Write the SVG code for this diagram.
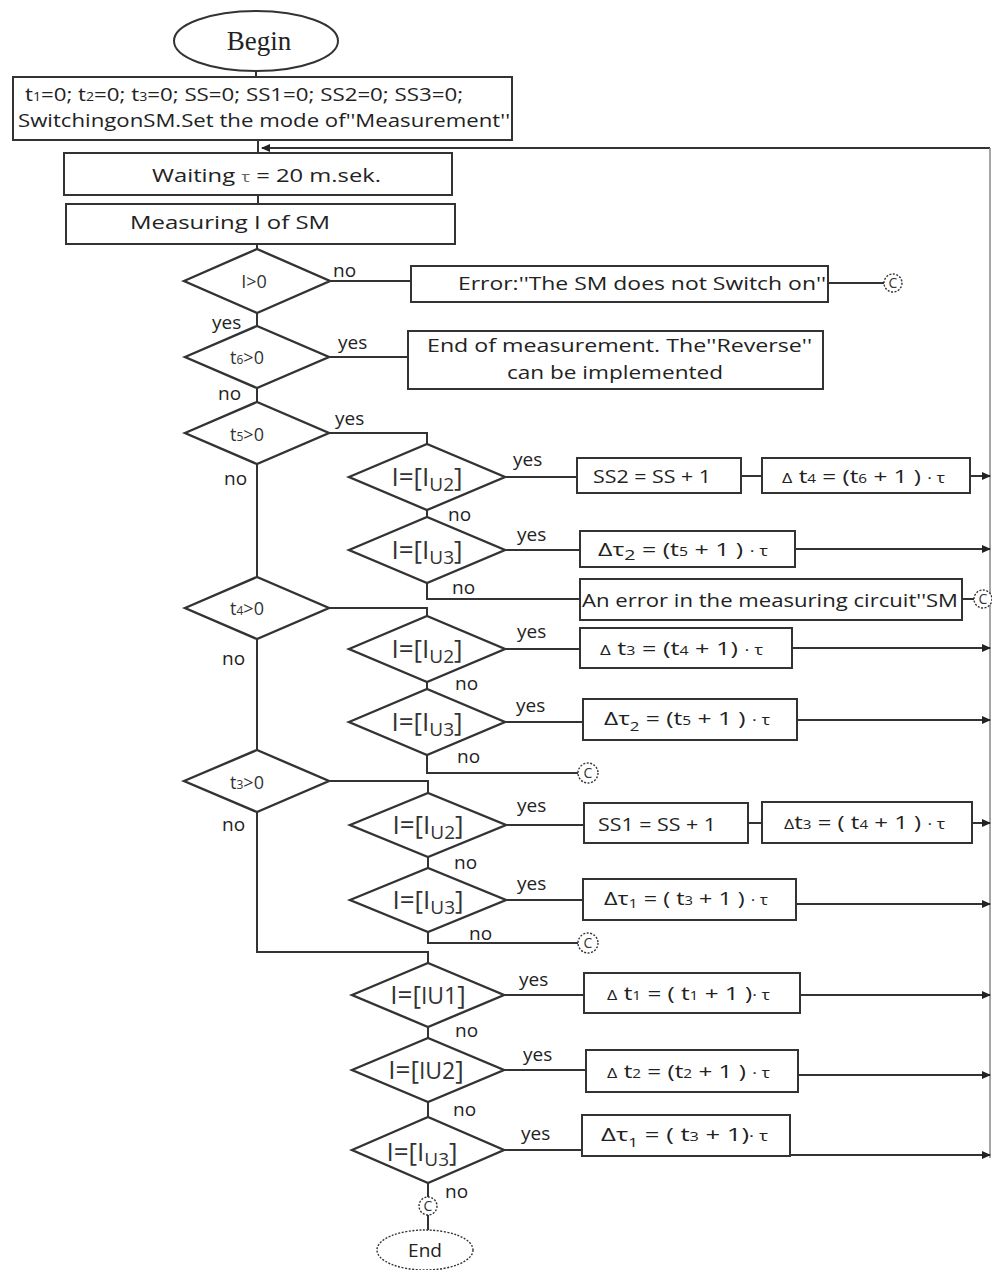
<svg xmlns="http://www.w3.org/2000/svg" width="992" height="1270" viewBox="0 0 992 1270">
<defs>
<marker id="ar" markerUnits="userSpaceOnUse" markerWidth="9" markerHeight="8" refX="8" refY="4" orient="auto"><path d="M0,0 L9,4 L0,8 z" fill="#222"/></marker>
<style>
.ln{stroke:#333;stroke-width:2;fill:none}
.bx{fill:#fff;stroke:#333;stroke-width:2}
.dm{fill:#fff;stroke:#333;stroke-width:2.4}
.cc{fill:#fff;stroke:#333;stroke-width:1.4;stroke-dasharray:2 1.5}
.t{font-family:"Open Sans","Noto Sans",sans-serif;font-size:19px;fill:#222}
.m{text-anchor:middle}
.d{font-family:"Open Sans","Noto Sans",sans-serif;font-size:18px;fill:#333;text-anchor:middle}
.e{font-family:"Open Sans","Noto Sans",sans-serif;font-size:19px;fill:#333;text-anchor:middle}
.big{font-size:26px}
.sub{font-size:12px}
.g{font-size:14px}
.c{font-family:"Open Sans","Noto Sans",sans-serif;font-size:14px;fill:#333;text-anchor:middle}
</style>
</defs>
<rect width="992" height="1270" fill="#fff"/>

<g id="connectors">
<path class="ln" d="M256,71 V77"/>
<path class="ln" d="M258,140 V153"/>
<path class="ln" d="M258,195 V204"/>
<path class="ln" d="M257,244 V249"/>
<path class="ln" d="M990,148 H262" marker-end="url(#ar)"/>
<path class="ln" d="M990,148 V1158" style="stroke:#888;stroke-width:1.5"/>
<path class="ln" d="M257,313 V326"/>
<path class="ln" d="M257,388 V402"/>
<path class="ln" d="M257,464 V577"/>
<path class="ln" d="M257,639 V750"/>
<path class="ln" d="M257,812 V952 H428 V963"/>
<path class="ln" d="M330,281 H411"/>
<path class="ln" d="M828,283 H884"/>
<path class="ln" d="M329,357 H408"/>
<path class="ln" d="M329,433 H427 V444"/>
<path class="ln" d="M505,477 H577"/>
<path class="ln" d="M741,476 H762"/>
<path class="ln" d="M970,476 H990" marker-end="url(#ar)"/>
<path class="ln" d="M427,510 V517"/>
<path class="ln" d="M505,550 H580"/>
<path class="ln" d="M795,549 H990" marker-end="url(#ar)"/>
<path class="ln" d="M427,583 V599 H580"/>
<path class="ln" d="M962,599 H974"/>
<path class="ln" d="M329,608 H427 V616"/>
<path class="ln" d="M505,649 H580"/>
<path class="ln" d="M792,648 H990" marker-end="url(#ar)"/>
<path class="ln" d="M427,682 V689"/>
<path class="ln" d="M505,722 H583"/>
<path class="ln" d="M797,720 H990" marker-end="url(#ar)"/>
<path class="ln" d="M427,755 V773 H578"/>
<path class="ln" d="M329,781 H428 V793"/>
<path class="ln" d="M506,825 H584"/>
<path class="ln" d="M748,823 H762"/>
<path class="ln" d="M972,823 H990" marker-end="url(#ar)"/>
<path class="ln" d="M428,857 V868"/>
<path class="ln" d="M506,900 H583"/>
<path class="ln" d="M796,904 H990" marker-end="url(#ar)"/>
<path class="ln" d="M428,932 V943 H578"/>
<path class="ln" d="M504,995 H584"/>
<path class="ln" d="M800,995 H990" marker-end="url(#ar)"/>
<path class="ln" d="M428,1027 V1038"/>
<path class="ln" d="M504,1070 H586"/>
<path class="ln" d="M798,1075 H990" marker-end="url(#ar)"/>
<path class="ln" d="M428,1102 V1117"/>
<path class="ln" d="M504,1150 H582"/>
<path class="ln" d="M790,1155 H990" marker-end="url(#ar)"/>
<path class="ln" d="M428,1183 V1197"/>
<path class="ln" d="M428,1215 V1230"/>
</g>

<g id="labels">
<text class="t" x="333" y="277">no</text>
<text class="t" x="212" y="329">yes</text>
<text class="t" x="338" y="349">yes</text>
<text class="t" x="218" y="400">no</text>
<text class="t" x="335" y="425">yes</text>
<text class="t" x="224" y="485">no</text>
<text class="t" x="513" y="466">yes</text>
<text class="t" x="448" y="521">no</text>
<text class="t" x="517" y="541">yes</text>
<text class="t" x="452" y="594">no</text>
<text class="t" x="222" y="665">no</text>
<text class="t" x="517" y="638">yes</text>
<text class="t" x="455" y="690">no</text>
<text class="t" x="516" y="712">yes</text>
<text class="t" x="457" y="763">no</text>
<text class="t" x="222" y="831">no</text>
<text class="t" x="517" y="812">yes</text>
<text class="t" x="454" y="869">no</text>
<text class="t" x="517" y="890">yes</text>
<text class="t" x="469" y="940">no</text>
<text class="t" x="519" y="986">yes</text>
<text class="t" x="455" y="1037">no</text>
<text class="t" x="523" y="1061">yes</text>
<text class="t" x="453" y="1116">no</text>
<text class="t" x="521" y="1140">yes</text>
<text class="t" x="445" y="1198">no</text>
</g>

<g id="begin"><ellipse class="bx" cx="256" cy="41" rx="82" ry="30"/><text x="259" y="50" text-anchor="middle" style="font-family:'Liberation Serif',serif;font-size:27px;fill:#222">Begin</text></g>

<g id="init"><rect class="bx" x="13" y="77" width="499" height="63"/>
<text class="t" x="25" y="101" textLength="438" lengthAdjust="spacingAndGlyphs">t<tspan class="sub">1</tspan>=0; t<tspan class="sub">2</tspan>=0; t<tspan class="sub">3</tspan>=0; SS=0; SS1=0; SS2=0; SS3=0;</text>
<text class="t" x="18" y="127" textLength="492" lengthAdjust="spacingAndGlyphs">SwitchingonSM.Set the mode of''Measurement''</text></g>

<g id="waiting"><rect class="bx" x="64" y="153" width="388" height="42"/>
<text class="t" x="152" y="182" textLength="229" lengthAdjust="spacingAndGlyphs">Waiting <tspan style="font-size:15px;fill:#666">τ</tspan>  = 20 m.sek.</text></g>

<g id="measuring"><rect class="bx" x="66" y="204" width="389" height="40"/>
<text class="t" x="130" y="229" textLength="200" lengthAdjust="spacingAndGlyphs">Measuring  I of SM</text></g>

<g id="d-i0"><polygon class="dm" points="184,281 257,249 330,281 257,313"/><text class="d" x="254" y="288">I&gt;0</text></g>
<g id="err1"><rect class="bx" x="411" y="266" width="417" height="36"/><text class="t" x="458" y="290" textLength="368" lengthAdjust="spacingAndGlyphs">Error:''The SM does not Switch on''</text></g>
<g id="c1"><circle class="cc" cx="893" cy="283" r="9"/><text class="c" x="893" y="288">C</text></g>

<g id="d-t6"><polygon class="dm" points="185,357 257,326 329,357 257,388"/><text class="d" x="247" y="364">t<tspan class="sub">6</tspan>&gt;0</text></g>
<g id="endm"><rect class="bx" x="408" y="331" width="415" height="58"/>
<text class="t" x="427" y="352" textLength="385" lengthAdjust="spacingAndGlyphs">End of measurement. The''Reverse''</text>
<text class="t" x="507" y="379" textLength="216" lengthAdjust="spacingAndGlyphs">can be implemented</text></g>

<g id="d-t5"><polygon class="dm" points="185,433 257,402 329,433 257,464"/><text class="d" x="247" y="441">t<tspan class="sub">5</tspan>&gt;0</text></g>

<g id="e1"><polygon class="dm" points="349,477 427,444 505,477 427,510"/><text class="e" x="427" y="486"><tspan class="big">I=[I</tspan><tspan dy="5">U2</tspan><tspan class="big" dy="-5">]</tspan></text></g>
<g id="ss2"><rect class="bx" x="577" y="458" width="164" height="35"/><text class="t" x="593" y="483" textLength="118" lengthAdjust="spacingAndGlyphs">SS2 = SS + 1</text></g>
<g id="dt4"><rect class="bx" x="762" y="458" width="208" height="35"/><text class="t" x="782" y="483" textLength="163" lengthAdjust="spacingAndGlyphs"><tspan class="g">Δ</tspan> t<tspan class="sub">4</tspan> = (t<tspan class="sub">6</tspan> + 1 ) <tspan class="g">· τ</tspan></text></g>

<g id="e2"><polygon class="dm" points="349,550 427,517 505,550 427,583"/><text class="e" x="427" y="559"><tspan class="big">I=[I</tspan><tspan dy="5">U3</tspan><tspan class="big" dy="-5">]</tspan></text></g>
<g id="dtau2a"><rect class="bx" x="580" y="531" width="215" height="36"/><text class="t" x="598" y="556" textLength="170" lengthAdjust="spacingAndGlyphs">Δτ<tspan dy="4" style="font-size:15px">2</tspan><tspan dy="-4"> = (t</tspan><tspan class="sub">5</tspan> + 1 ) <tspan class="g">· τ</tspan></text></g>

<g id="err2"><rect class="bx" x="580" y="579" width="382" height="41"/><text class="t" x="582" y="607" textLength="376" lengthAdjust="spacingAndGlyphs">An error in the measuring circuit''SM</text></g>
<g id="c2"><circle class="cc" cx="983" cy="599" r="9"/><text class="c" x="983" y="604">C</text></g>

<g id="d-t4"><polygon class="dm" points="185,608 257,577 329,608 257,639"/><text class="d" x="247" y="615">t<tspan class="sub">4</tspan>&gt;0</text></g>

<g id="e3"><polygon class="dm" points="349,649 427,616 505,649 427,682"/><text class="e" x="427" y="658"><tspan class="big">I=[I</tspan><tspan dy="5">U2</tspan><tspan class="big" dy="-5">]</tspan></text></g>
<g id="dt3a"><rect class="bx" x="580" y="628" width="212" height="40"/><text class="t" x="600" y="655" textLength="163" lengthAdjust="spacingAndGlyphs"><tspan class="g">Δ</tspan>  t<tspan class="sub">3</tspan> = (t<tspan class="sub">4</tspan> + 1)  <tspan class="g">· τ</tspan></text></g>

<g id="e4"><polygon class="dm" points="349,722 427,689 505,722 427,755"/><text class="e" x="427" y="731"><tspan class="big">I=[I</tspan><tspan dy="5">U3</tspan><tspan class="big" dy="-5">]</tspan></text></g>
<g id="dtau2b"><rect class="bx" x="583" y="699" width="214" height="41"/><text class="t" x="604" y="725" textLength="166" lengthAdjust="spacingAndGlyphs">Δτ<tspan dy="6" style="font-size:13px">2</tspan><tspan dy="-6">  = (t</tspan><tspan class="sub">5</tspan> + 1 ) <tspan class="g">· τ</tspan></text></g>
<g id="c3"><circle class="cc" cx="588" cy="773" r="10"/><text class="c" x="588" y="778">C</text></g>

<g id="d-t3"><polygon class="dm" points="184,781 257,750 329,781 257,812"/><text class="d" x="247" y="789">t<tspan class="sub">3</tspan>&gt;0</text></g>

<g id="e5"><polygon class="dm" points="350,825 428,793 506,825 428,857"/><text class="e" x="428" y="834"><tspan class="big">I=[I</tspan><tspan dy="5">U2</tspan><tspan class="big" dy="-5">]</tspan></text></g>
<g id="ss1"><rect class="bx" x="584" y="803" width="164" height="40"/><text class="t" x="598" y="831" textLength="118" lengthAdjust="spacingAndGlyphs">SS1 = SS + 1</text></g>
<g id="dt3b"><rect class="bx" x="762" y="802" width="210" height="41"/><text class="t" x="784" y="829" textLength="161" lengthAdjust="spacingAndGlyphs"><tspan class="g">Δ</tspan>t<tspan class="sub">3</tspan> = ( t<tspan class="sub">4</tspan> + 1 ) <tspan class="g">· τ</tspan></text></g>

<g id="e6"><polygon class="dm" points="350,900 428,868 506,900 428,932"/><text class="e" x="428" y="909"><tspan class="big">I=[I</tspan><tspan dy="5">U3</tspan><tspan class="big" dy="-5">]</tspan></text></g>
<g id="dtau1a"><rect class="bx" x="583" y="879" width="213" height="41"/><text class="t" x="604" y="905" textLength="164" lengthAdjust="spacingAndGlyphs">Δτ<tspan dy="3" style="font-size:13px">1</tspan><tspan dy="-3"> = ( t</tspan><tspan class="sub">3</tspan> + 1 ) <tspan class="g">· τ</tspan></text></g>
<g id="c4"><circle class="cc" cx="588" cy="943" r="10"/><text class="c" x="588" y="948">C</text></g>

<g id="e7"><polygon class="dm" points="352,995 428,963 504,995 428,1027"/><text class="e" x="428" y="1004"><tspan class="big">I=[</tspan><tspan style="font-size:23px">IU1</tspan><tspan class="big">]</tspan></text></g>
<g id="dt1"><rect class="bx" x="584" y="973" width="216" height="40"/><text class="t" x="607" y="1000" textLength="163" lengthAdjust="spacingAndGlyphs"><tspan class="g">Δ</tspan> t<tspan class="sub">1</tspan> = ( t<tspan class="sub">1</tspan> + 1 )<tspan class="g">· τ</tspan></text></g>

<g id="e8"><polygon class="dm" points="352,1070 428,1038 504,1070 428,1102"/><text class="e" x="426" y="1079"><tspan class="big">I=[</tspan><tspan style="font-size:23px">IU2</tspan><tspan class="big">]</tspan></text></g>
<g id="dt2"><rect class="bx" x="586" y="1050" width="212" height="42"/><text class="t" x="607" y="1078" textLength="163" lengthAdjust="spacingAndGlyphs"><tspan class="g">Δ</tspan> t<tspan class="sub">2</tspan> = (t<tspan class="sub">2</tspan> + 1 ) <tspan class="g">· τ</tspan></text></g>

<g id="e9"><polygon class="dm" points="352,1150 428,1117 504,1150 428,1183"/><text class="e" x="422" y="1161"><tspan class="big">I=[I</tspan><tspan dy="5">U3</tspan><tspan class="big" dy="-5">]</tspan></text></g>
<g id="dtau1b"><rect class="bx" x="582" y="1115" width="208" height="41"/><text class="t" x="601" y="1141" textLength="167" lengthAdjust="spacingAndGlyphs">Δτ<tspan dy="6" style="font-size:13px">1</tspan><tspan dy="-6">  = ( t</tspan><tspan class="sub">3</tspan> + 1)<tspan class="g">· τ</tspan></text></g>

<g id="c5"><circle class="cc" cx="428" cy="1206" r="9"/><text class="c" x="428" y="1211">C</text></g>
<g id="end"><ellipse class="cc" cx="425" cy="1250" rx="48" ry="20"/><text class="t m" x="425" y="1257">End</text></g>
</svg>
